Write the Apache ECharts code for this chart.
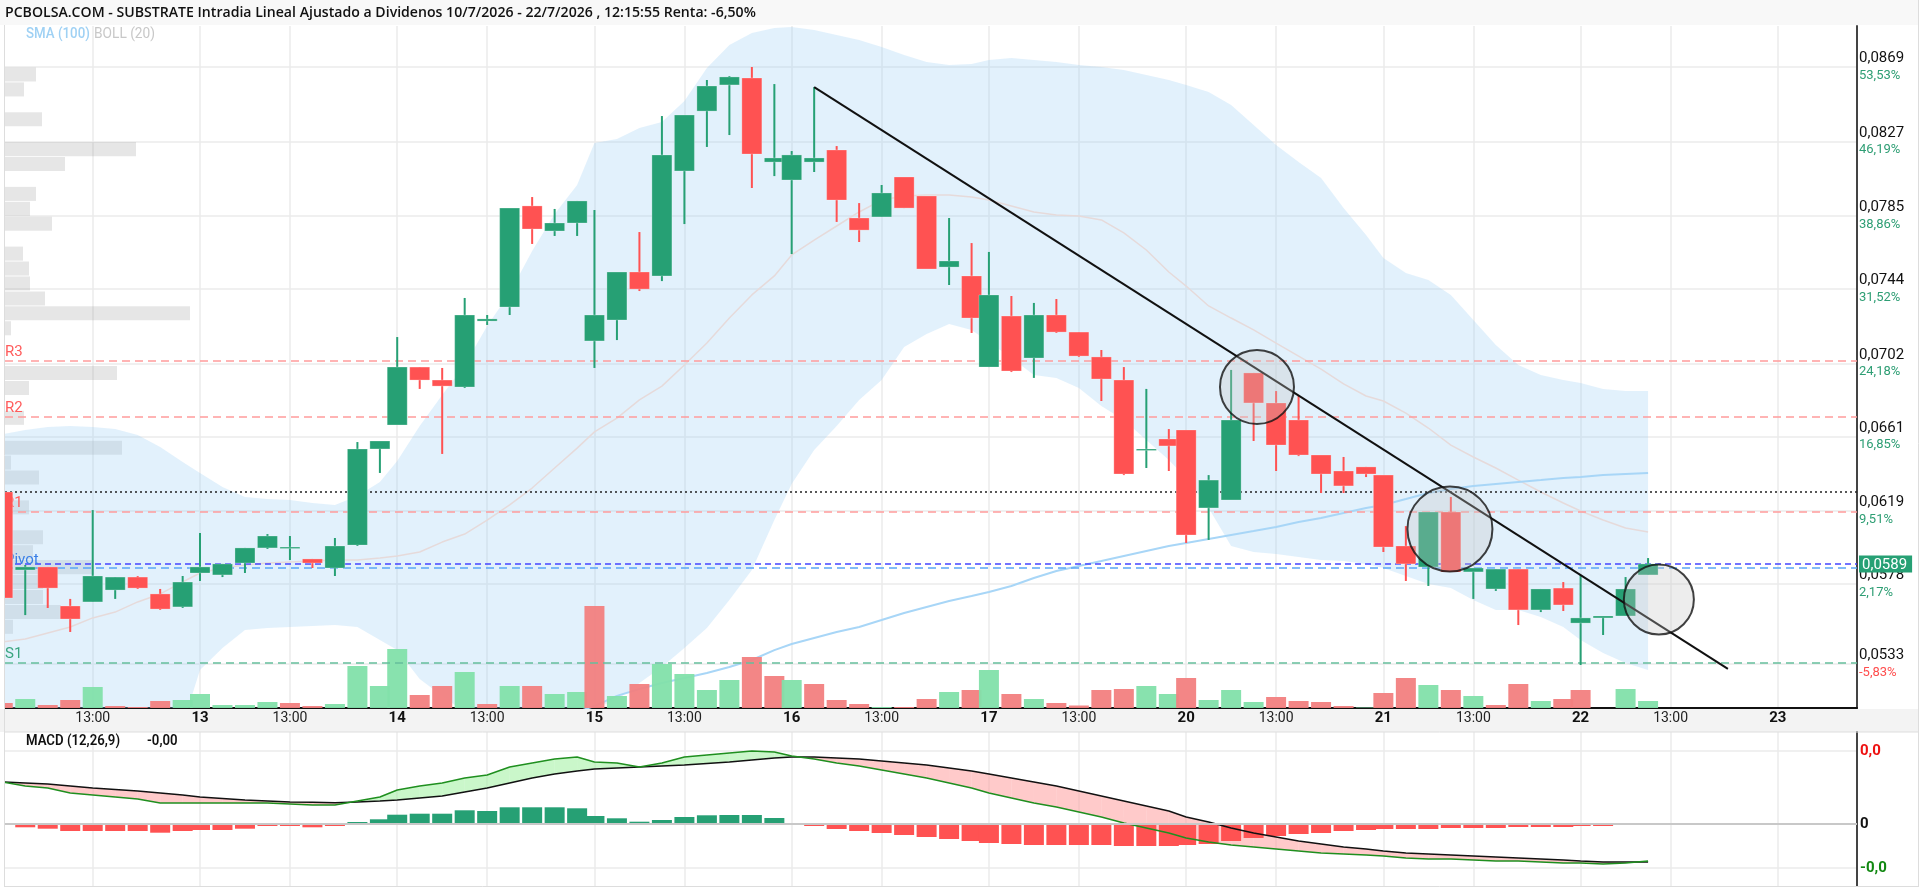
<!DOCTYPE html>
<html><head><meta charset="utf-8">
<script src="https://cdn.jsdelivr.net/npm/echarts@6/dist/echarts.min.js"></script>
<style>html,body{margin:0;padding:0;background:#fff}#c{width:1923px;height:891px}</style>
</head><body><div id="c"></div>
<script>
// ---------------- DATA ----------------
const DAYS = ['10','13','14','15','16','17','20','21','22','23'];
const FIRST_HOUR = 9;          // first hourly candle of a session
const CANDLES_PER_DAY = 9;     // 9:00 ... 17:00
const DAY_SPAN = 8.77;         // session length in hours (x-axis units)
const MIDDAY_HOUR = 13;

const OPEN = [
 0.06298,0.05859,0.05876,0.05656,0.05679,0.05746,0.05819,0.05724,0.05651,
 0.05842,0.05831,0.05898,0.05983,0.05983,0.05921,0.05870,0.05999,0.06540,
 0.06675,0.07001,0.06928,0.06889,0.07260,0.07339,0.07908,0.07767,0.07812,
 0.07148,0.07266,0.07536,0.07514,0.08105,0.08442,0.08589,0.08628,0.08155,
 0.08054,0.08155,0.08223,0.07840,0.07846,0.08071,0.07964,0.07564,0.07514,
 0.07001,0.07288,0.07052,0.07294,0.07198,0.07058,0.06928,0.06534,0.06596,
 0.06647,0.06208,0.06253,0.06968,0.06799,0.06703,0.06506,0.06416,0.06439,
 0.06393,0.05994,0.05876,0.06185,0.05848,0.05752,0.05864,0.05634,0.05757,
 0.05560,0.05589,0.05600,0.05831];
const CLOSE = [
 0.05701,0.05876,0.05757,0.05583,0.05825,0.05819,0.05757,0.05639,0.05791,
 0.05876,0.05893,0.05983,0.06050,0.05988,0.05898,0.05994,0.06540,0.06585,
 0.07001,0.06928,0.06894,0.07294,0.07272,0.07896,0.07778,0.07812,0.07936,
 0.07294,0.07536,0.07440,0.08195,0.08420,0.08583,0.08634,0.08200,0.08178,
 0.08195,0.08178,0.07941,0.07772,0.07981,0.07896,0.07553,0.07598,0.07277,
 0.07407,0.06979,0.07294,0.07198,0.07063,0.06934,0.06399,0.06540,0.06557,
 0.06056,0.06365,0.06703,0.06799,0.06562,0.06506,0.06399,0.06332,0.06399,
 0.05988,0.05893,0.06185,0.05848,0.05870,0.05864,0.05634,0.05752,0.05662,
 0.05589,0.05600,0.05752,0.05893];
const LOW = [
 0.05701,0.05605,0.05645,0.05510,0.05679,0.05696,0.05752,0.05634,0.05645,
 0.05797,0.05819,0.05842,0.05977,0.05915,0.05870,0.05825,0.05994,0.06405,
 0.06675,0.06878,0.06512,0.06883,0.07238,0.07294,0.07694,0.07739,0.07739,
 0.06996,0.07153,0.07429,0.07485,0.07806,0.08240,0.08307,0.08009,0.08076,
 0.07637,0.08099,0.07818,0.07705,0.07846,0.07896,0.07553,0.07463,0.07193,
 0.07001,0.06973,0.06940,0.07193,0.07058,0.06810,0.06393,0.06433,0.06416,
 0.06011,0.06028,0.06253,0.06585,0.06416,0.06500,0.06292,0.06292,0.06382,
 0.05960,0.05797,0.05769,0.05848,0.05696,0.05741,0.05549,0.05622,0.05628,
 0.05324,0.05493,0.05600,0.05831];
const HIGH = [
 0.06298,0.05887,0.05876,0.05696,0.06196,0.05819,0.05825,0.05752,0.05825,
 0.06067,0.05893,0.05983,0.06061,0.06050,0.05921,0.06039,0.06579,0.06585,
 0.07170,0.07001,0.06996,0.07390,0.07294,0.07896,0.07958,0.07891,0.07936,
 0.07885,0.07536,0.07761,0.08414,0.08420,0.08617,0.08639,0.08690,0.08594,
 0.08217,0.08577,0.08245,0.07924,0.08026,0.08071,0.07964,0.07840,0.07699,
 0.07649,0.07401,0.07362,0.07384,0.07198,0.07097,0.07001,0.06878,0.06652,
 0.06647,0.06393,0.06985,0.06968,0.06866,0.06838,0.06506,0.06495,0.06439,
 0.06393,0.06106,0.06185,0.06270,0.05870,0.05864,0.05864,0.05752,0.05791,
 0.05831,0.05600,0.05819,0.05926];
const VOLUME = [
 5,9,3,8,21,2,1,7,8,
 14,3,3,6,5,2,4,42,22,
 59,13,22,36,4,22,22,14,16,
 102,12,24,44,34,18,28,51,32,
 28,24,8,4,1,1,9,16,18,
 38,14,9,5,2.5,18,19,22,14,
 30,8,18,6,11,7,6,2,0.5,
 15,30,23,18,12,3,24,7,9,
 18,0,19,7];
const BOLL_UP = [
 0.06624,0.06647,0.06664,0.06669,0.06664,0.06652,0.06619,0.06551,0.06467,
 0.06405,0.06326,0.06270,0.06258,0.06253,0.06236,0.06225,0.06275,0.06354,
 0.06472,0.06669,0.06844,0.07013,0.07232,0.07418,0.07654,0.07863,0.08026,
 0.08262,0.08285,0.08347,0.08380,0.08499,0.08684,0.08814,0.08881,0.08910,
 0.08915,0.08898,0.08870,0.08842,0.08803,0.08758,0.08718,0.08701,0.08707,
 0.08729,0.08741,0.08729,0.08718,0.08701,0.08690,0.08673,0.08645,0.08617,
 0.08589,0.08549,0.08476,0.08364,0.08251,0.08155,0.08065,0.07896,0.07744,
 0.07615,0.07530,0.07491,0.07407,0.07266,0.07125,0.07013,0.06956,0.06928,
 0.06911,0.06878,0.06866,0.06866];
const BOLL_MID = [
 0.05454,0.05470,0.05504,0.05538,0.05589,0.05622,0.05679,0.05724,0.05791,
 0.05842,0.05870,0.05887,0.05898,0.05904,0.05909,0.05915,0.05915,0.05926,
 0.05938,0.05960,0.06016,0.06061,0.06140,0.06225,0.06320,0.06433,0.06545,
 0.06636,0.06714,0.06816,0.06894,0.07013,0.07136,0.07277,0.07407,0.07514,
 0.07632,0.07716,0.07795,0.07874,0.07941,0.07964,0.07970,0.07970,0.07958,
 0.07941,0.07908,0.07874,0.07857,0.07851,0.07829,0.07756,0.07660,0.07536,
 0.07457,0.07345,0.07277,0.07210,0.07136,0.07063,0.06990,0.06906,0.06838,
 0.06810,0.06742,0.06658,0.06562,0.06495,0.06433,0.06365,0.06298,0.06236,
 0.06191,0.06140,0.06095,0.06073];
const BOLL_LOW = [
 0.04283,0.04305,0.04367,0.04440,0.04514,0.04592,0.04705,0.04846,0.04986,
 0.05296,0.05420,0.05521,0.05532,0.05538,0.05544,0.05549,0.05538,0.05465,
 0.05408,0.05245,0.05150,0.05060,0.05003,0.04969,0.04958,0.04986,0.05043,
 0.05082,0.05127,0.05223,0.05313,0.05420,0.05532,0.05690,0.05859,0.06140,
 0.06343,0.06534,0.06669,0.06816,0.06928,0.07114,0.07187,0.07243,0.07210,
 0.07142,0.07052,0.06956,0.06940,0.06883,0.06782,0.06703,0.06591,0.06478,
 0.06377,0.06208,0.05994,0.05960,0.05949,0.05932,0.05915,0.05909,0.05893,
 0.05870,0.05825,0.05780,0.05757,0.05690,0.05634,0.05634,0.05594,0.05538,
 0.05465,0.05392,0.05335,0.05296];
const SMA100 = [
 null,null,null,null,null,null,null,null,null,
 null,null,null,null,null,null,null,null,null,
 null,null,null,null,null,null,0.05003,0.05031,0.05060,
 0.05093,0.05150,0.05189,0.05223,0.05251,0.05279,0.05313,0.05352,0.05408,
 0.05442,0.05476,0.05510,0.05538,0.05577,0.05617,0.05651,0.05684,0.05712,
 0.05735,0.05769,0.05814,0.05853,0.05881,0.05909,0.05938,0.05966,0.05994,
 0.06011,0.06033,0.06056,0.06078,0.06101,0.06129,0.06151,0.06180,0.06208,
 0.06225,0.06258,0.06292,0.06315,0.06332,0.06343,0.06354,0.06365,0.06377,
 0.06382,0.06393,0.06399,0.06405];
// MACD panel values, in units of 1e-5
const MACD = [
 42,38,36,31,29,27,25,21,21,
 21,21,21,21,20,19,19,23,27,
 34,38,41,46,49,57,61,65,67,
 62,61,57,61,67,69,71,73,72,
 68,65,61,58,54,50,46,41,36,
 31,26,21,17,12,7,1,-4,-9,
 -14,-18,-21,-23,-25,-27,-29,-30,-31,
 -32,-34,-35,-35,-36,-37,-37,-38,-39,
 -39,-40,-39,-37];
const SIGNAL = [
 42,41,40,38,36,34.5,33,31,29,
 27,25.5,24,23,22,21.7,21.3,22,23,
 24,26,28,32,36,41,46,50,53,
 55,56,57,58,59,60.5,62,64,66,
 67,67,66,65,63,61,59,56,53,
 50,46,42,38,33,28,23,18,13,
 7,2,-4,-9,-13,-17,-20,-23,-25,
 -27,-29,-30,-31,-32,-33,-34,-35,-36,
 -37,-38,-38,-38];
const HIST = [
 -1,-3.3,-4.7,-7,-7,-7,-7,-8.7,-7,
 -6,-6,-4.7,-2,-2,-3.3,-2,2,4.7,
 9.3,10.3,10.3,13.7,13,16.7,16.7,16.7,15.7,
 8,5.7,2.3,4,7,8.7,9,9,6,
 1,-2,-5,-7,-9,-11,-13,-15,-17,
 -19,-20,-21,-21,-21,-21,-22,-22,-22,
 -21,-20,-17,-14,-12,-10,-9,-7,-6,
 -5,-5,-5,-4,-4,-4,-3,-3,-3,
 -2,-2,-1,1];
// Volume at price profile (38 bins from top)
const VPROFILE = [31,19,0,37,0,131,60,0,31,25,47,0,18,24,25,40,185,6,0,0,112,24,0,19,0,117,6,34,0,24,0,38,28,89,38,38,56,8];

const PRICE_TICKS = [0.0869,0.0827,0.0785,0.0744,0.0702,0.0661,0.0619,0.0578,0.0533];
const PRICE_PCT   = ['53,53%','46,19%','38,86%','31,52%','24,18%','16,85%','9,51%','2,17%','-5,83%'];
const LEVELS = {R3:0.07035, R2:0.06720, R1:0.06185, Pivot:0.05893, S1:0.05335};
const REF_PRICE = 0.06298;
const LAST_LINE = 0.05870;
const MACD_TICKS = [73, 0, -44];
const MACD_TICK_LABELS = ['0,0','0','-0,0'];
const TRENDLINE = [[36.08, 0.08577],[76.71, 0.05302]];
const CIRCLES = [[55.77, 0.06889, 74],[64.35, 0.06090, 85],[73.64, 0.05693, 70]];

const TITLE = 'PCBOLSA.COM - SUBSTRATE Intradia Lineal Ajustado a Dividenos 10/7/2026 - 22/7/2026 , 12:15:55 Renta: -6,50%';

// ---------------- LAYOUT ----------------
const XMIN = 0.1, XMAX = 82.45;
const PMIN = 0.05082, PMAX = 0.089208;
const GREEN = '#26a074', RED = '#ff5252';
const VGREEN = '#82e0aa', VRED = '#f27f7f';

const N = OPEN.length;
const X = OPEN.map((_, i) => Math.floor(i / CANDLES_PER_DAY) * DAY_SPAN + (i % CANDLES_PER_DAY));
const LAST = CLOSE[N - 1];

const X_TICKS = [], X_LABELS = [];
DAYS.forEach((d, di) => {
  const s = di * DAY_SPAN;
  if (s >= XMIN) { X_TICKS.push(s); X_LABELS.push('{d|' + d + '}'); }
  const m = s + (MIDDAY_HOUR - FIRST_HOUR);
  if (m <= XMAX) { X_TICKS.push(m); X_LABELS.push('{t|' + MIDDAY_HOUR + ':00}'); }
});
const fmtP = v => v.toFixed(4).replace('.', ',');
const nearIdx = (arr, v) => { let b = -1, bd = 1e9; arr.forEach((a, i) => { const d = Math.abs(a - v); if (d < bd) { bd = d; b = i; } }); return b; };

const chart = echarts.init(document.getElementById('c'), null, {width: 1923, height: 891});

const GRIDC = '#ebebeb';
const RLINE = {color: '#ff9c9c', type: [8, 5], width: 1.5};
const option = {
  animation: false,
  backgroundColor: '#ffffff',
  grid: [
    {left: 5, top: 26, width: 1852, height: 682, outerBoundsMode: 'none'},
    {left: 5, top: 67, width: 1852, height: 567.3, outerBoundsMode: 'none'},
    {left: 5, top: 732, width: 1852, height: 154, outerBoundsMode: 'none'}
  ],
  xAxis: [
    {gridIndex: 0, type: 'value', min: XMIN, max: XMAX,
     axisLine: {show: true, onZero: false, lineStyle: {color: '#111', width: 2}},
     axisTick: {show: false, customValues: X_TICKS},
     splitLine: {show: true, lineStyle: {color: GRIDC, width: 1.5}},
     axisLabel: {customValues: X_TICKS, margin: 3,
       formatter: v => X_LABELS[nearIdx(X_TICKS, v)],
       rich: {d: {fontFamily: 'Roboto', fontWeight: 'bold', fontSize: 15, color: '#111'},
              t: {fontFamily: 'Roboto', fontSize: 14, color: '#222'}}}},
    {gridIndex: 1, type: 'value', min: 0, max: 1852, show: false},
    {gridIndex: 2, type: 'value', min: XMIN, max: XMAX,
     axisLine: {show: false}, axisLabel: {show: false},
     axisTick: {show: false, customValues: X_TICKS},
     splitLine: {show: true, lineStyle: {color: GRIDC, width: 1.5}}}
  ],
  yAxis: [
    {gridIndex: 0, type: 'value', position: 'right', min: PMIN, max: PMAX,
     axisLine: {show: true, onZero: false, lineStyle: {color: '#444', width: 2}},
     axisTick: {show: false, customValues: PRICE_TICKS},
     splitLine: {show: true, lineStyle: {color: GRIDC, width: 1.5}},
     axisLabel: {customValues: PRICE_TICKS.concat([LAST]), margin: 2,
       formatter: v => {
         if (Math.abs(v - LAST) < 1e-9) return '{last|' + fmtP(v) + '}';
         const i = nearIdx(PRICE_TICKS, v);
         const pc = PRICE_PCT[i];
         return '{p|' + fmtP(v) + '}\n{' + (pc[0] === '-' ? 'n' : 'q') + '|' + pc + '}';
       },
       rich: {
         p: {fontFamily: 'Roboto', fontSize: 15, color: '#111', lineHeight: 17},
         q: {fontFamily: 'Roboto', fontSize: 13, color: '#2e9e74', lineHeight: 17},
         n: {fontFamily: 'Roboto', fontSize: 13, color: '#ff4d4d', lineHeight: 17},
         last: {fontFamily: 'Roboto', fontSize: 15, color: '#fff', backgroundColor: GREEN, padding: [2, 5, 0, 3], lineHeight: 16}
       }}},
    {gridIndex: 0, type: 'value', min: 0, max: 682, show: false},
    {gridIndex: 1, type: 'category', inverse: true, data: VPROFILE.map((_, i) => i), show: false},
    {gridIndex: 2, type: 'value', position: 'right', min: -62, max: 92,
     axisLine: {show: true, onZero: false, lineStyle: {color: '#444', width: 2}},
     axisTick: {show: false, customValues: MACD_TICKS},
     splitLine: {show: true, lineStyle: {color: GRIDC, width: 1.5}},
     axisLabel: {customValues: MACD_TICKS, margin: 3,
       formatter: v => { const i = nearIdx(MACD_TICKS, v); return '{s' + i + '|' + MACD_TICK_LABELS[i] + '}'; },
       rich: {s0: {fontFamily: 'Roboto', fontWeight: 'bold', fontSize: 15, color: '#ee1111'},
              s1: {fontFamily: 'Roboto', fontWeight: 'bold', fontSize: 15, color: '#111'},
              s2: {fontFamily: 'Roboto', fontWeight: 'bold', fontSize: 15, color: '#118811'}}}}
  ],
  series: [
    // volume profile
    {type: 'bar', xAxisIndex: 1, yAxisIndex: 2, data: VPROFILE, barCategoryGap: '6%', z: 1, silent: true,
     itemStyle: {color: 'rgba(150,150,150,0.24)'}},
    // bollinger band fill
    {type: 'custom', xAxisIndex: 0, yAxisIndex: 0, z: 2, clip: true, silent: true,
     data: [[X[0], BOLL_MID[0]]],
     renderItem: (params, api) => {
       const pts = [];
       for (let i = 0; i < N; i++) pts.push(api.coord([X[i], BOLL_UP[i]]));
       for (let i = N - 1; i >= 0; i--) pts.push(api.coord([X[i], BOLL_LOW[i]]));
       return {type: 'polygon', shape: {points: pts}, style: {fill: 'rgba(160,210,245,0.3)'}};
     }},
    // BOLL middle + levels
    {type: 'line', xAxisIndex: 0, yAxisIndex: 0, z: 3, symbol: 'none', silent: true,
     data: X.map((x, i) => [x, BOLL_MID[i]]),
     lineStyle: {color: '#e6dada', width: 1.5},
     markLine: {symbol: ['none', 'none'], silent: true, animation: false, precision: 8,
       data: [
         {yAxis: LEVELS.R3, lineStyle: RLINE, label: {formatter: 'R3', color: '#ff5c5c'}},
         {yAxis: LEVELS.R2, lineStyle: RLINE, label: {formatter: 'R2', color: '#ff5c5c'}},
         {yAxis: LEVELS.R1, lineStyle: RLINE, label: {formatter: 'R1', color: '#ff5c5c'}},
         {yAxis: REF_PRICE, lineStyle: {color: '#222', type: [2, 3], width: 1.5}, label: {show: false}},
         {yAxis: LAST_LINE, lineStyle: {color: '#5aa6f5', type: [8, 5], width: 1.5}, label: {show: false}},
         {yAxis: LEVELS.Pivot, lineStyle: {color: '#4545ff', type: [6, 4], width: 1.5}, label: {formatter: 'Pivot', color: '#3a7fe6', distance: [0, -4]}},
         {yAxis: LEVELS.S1, lineStyle: {color: '#66bf9c', type: [8, 5], width: 1.5}, label: {formatter: 'S1', color: '#3aa57f'}}
       ],
       label: {show: true, position: 'insideStartTop', distance: [0, 1], fontFamily: 'Roboto', fontSize: 15}}},
    // SMA 100
    {type: 'line', xAxisIndex: 0, yAxisIndex: 0, z: 3, symbol: 'none', silent: true, connectNulls: false,
     data: X.map((x, i) => [x, SMA100[i]]),
     lineStyle: {color: '#a8d6f7', width: 2}},
    // volumes
    {type: 'custom', xAxisIndex: 0, yAxisIndex: 1, z: 4, clip: true, silent: true,
     data: VOLUME.map((v, i) => [X[i], v, (i === 0 ? CLOSE[0] >= OPEN[0] : CLOSE[i] >= CLOSE[i - 1]) ? 1 : 0]),
     renderItem: (params, api) => {
       const a = api.coord([api.value(0), api.value(1)]), b = api.coord([api.value(0), 0]);
       return {type: 'rect', shape: {x: a[0] - 10, y: a[1], width: 20, height: b[1] - a[1]},
               style: {fill: api.value(2) ? VGREEN : VRED, opacity: 0.95}};
     }},
    // candles
    {type: 'custom', xAxisIndex: 0, yAxisIndex: 0, z: 6, clip: true, silent: true,
     encode: {x: 0, y: [1, 2, 3, 4]},
     data: X.map((x, i) => [x, OPEN[i], CLOSE[i], LOW[i], HIGH[i]]),
     renderItem: (params, api) => {
       const x = api.value(0), o = api.value(1), c = api.value(2), l = api.value(3), h = api.value(4);
       const po = api.coord([x, o]), pc = api.coord([x, c]), pl = api.coord([x, l]), ph = api.coord([x, h]);
       const col = c >= o ? GREEN : RED;
       const top = Math.min(po[1], pc[1]), bot = Math.max(po[1], pc[1]);
       return {type: 'group', children: [
         {type: 'line', shape: {x1: po[0], y1: ph[1], x2: po[0], y2: pl[1]}, style: {stroke: col, lineWidth: 2}},
         {type: 'rect', shape: {x: po[0] - 10, y: top, width: 20, height: Math.max(bot - top, 1.5)},
          style: {fill: col, stroke: 'rgba(255,255,255,0.25)', lineWidth: 1}}
       ]};
     }},
    // trend line
    {type: 'line', xAxisIndex: 0, yAxisIndex: 0, z: 7, symbol: 'none', silent: true,
     data: TRENDLINE, lineStyle: {color: '#111', width: 2}},
    // circles
    {type: 'scatter', xAxisIndex: 0, yAxisIndex: 0, z: 8, silent: true,
     data: CIRCLES.map(c => ({value: [c[0], c[1]], symbolSize: c[2]})),
     itemStyle: {color: 'rgba(200,200,200,0.4)', borderColor: '#111', borderWidth: 2}},
    // MACD fill
    {type: 'custom', xAxisIndex: 2, yAxisIndex: 3, z: 1, clip: true, silent: true,
     data: X.slice(0, N - 1).map((x, i) => [x, X[i + 1], MACD[i], SIGNAL[i], MACD[i + 1], SIGNAL[i + 1]]),
     renderItem: (params, api) => {
       const x0 = api.value(0), x1 = api.value(1), m0 = api.value(2), s0 = api.value(3), m1 = api.value(4), s1 = api.value(5);
       const P = (x, y) => api.coord([x, y]);
       const d0 = m0 - s0, d1 = m1 - s1;
       const UP = 'rgba(150,240,150,0.5)', DN = 'rgba(255,150,150,0.5)';
       const ch = [];
       if (d0 * d1 >= 0) {
         ch.push({type: 'polygon', shape: {points: [P(x0, m0), P(x1, m1), P(x1, s1), P(x0, s0)]}, style: {fill: (d0 + d1) >= 0 ? UP : DN}});
       } else {
         const t = d0 / (d0 - d1), xc = x0 + t * (x1 - x0), yc = m0 + t * (m1 - m0);
         ch.push({type: 'polygon', shape: {points: [P(x0, m0), P(xc, yc), P(x0, s0)]}, style: {fill: d0 > 0 ? UP : DN}});
         ch.push({type: 'polygon', shape: {points: [P(xc, yc), P(x1, m1), P(x1, s1)]}, style: {fill: d1 > 0 ? UP : DN}});
       }
       return {type: 'group', children: ch};
     }},
    // MACD histogram
    {type: 'custom', xAxisIndex: 2, yAxisIndex: 3, z: 2, clip: true, silent: true,
     data: HIST.map((h, i) => [X[i], h]),
     renderItem: (params, api) => {
       const a = api.coord([api.value(0), api.value(1)]), b = api.coord([api.value(0), 0]);
       return {type: 'rect', shape: {x: a[0] - 10, y: Math.min(a[1], b[1]), width: 20, height: Math.abs(b[1] - a[1])},
               style: {fill: api.value(1) >= 0 ? GREEN : RED}};
     }},
    // MACD zero line
    {type: 'line', xAxisIndex: 2, yAxisIndex: 3, z: 1, symbol: 'none', silent: true, data: [],
     markLine: {symbol: ['none', 'none'], silent: true, precision: 8, label: {show: false},
       data: [{yAxis: 0}], lineStyle: {color: '#c8c8c8', type: 'solid', width: 2}}},
    {type: 'line', xAxisIndex: 2, yAxisIndex: 3, z: 3, symbol: 'none', silent: true,
     data: X.map((x, i) => [x, SIGNAL[i]]), lineStyle: {color: '#111', width: 1.5}},
    {type: 'line', xAxisIndex: 2, yAxisIndex: 3, z: 3, symbol: 'none', silent: true,
     data: X.map((x, i) => [x, MACD[i]]), lineStyle: {color: '#1f8f1f', width: 1.5}}
  ],
  graphic: [
    {type: 'rect', z: -10, shape: {x: 0, y: 0, width: 1918, height: 25}, style: {fill: '#f8f8f8'}},
    {type: 'rect', z: -10, shape: {x: 0, y: 709, width: 1918, height: 23}, style: {fill: '#f3f3f3'}},
    {type: 'line', z: 50, shape: {x1: 4.5, y1: 25, x2: 4.5, y2: 886}, style: {stroke: '#dddddd', lineWidth: 1}},
    {type: 'line', z: 50, shape: {x1: 1918.5, y1: 0, x2: 1918.5, y2: 887}, style: {stroke: '#dddddd', lineWidth: 1}},
    {type: 'line', z: 50, shape: {x1: 4, y1: 886.5, x2: 1918, y2: 886.5}, style: {stroke: '#dddddd', lineWidth: 1}},
    {type: 'line', z: 50, shape: {x1: 4, y1: 732, x2: 1918, y2: 732}, style: {stroke: '#dddddd', lineWidth: 1}},
    {type: 'text', z: 60, x: 5, y: 13, scaleX: 0.94,
     style: {text: TITLE, font: '600 15px "Open Sans"', fill: '#111', verticalAlign: 'middle'}},
    {type: 'text', z: 60, x: 26, y: 34, scaleX: 0.95,
     style: {text: 'SMA (100)', font: '500 14px Roboto', fill: '#9fd1f4', verticalAlign: 'middle'}},
    {type: 'text', z: 60, x: 94, y: 34, scaleX: 0.98,
     style: {text: 'BOLL (20)', font: '14px Roboto', fill: '#c8c8c8', verticalAlign: 'middle'}},
    {type: 'text', z: 60, x: 26, y: 741, scaleX: 0.88,
     style: {text: 'MACD (12,26,9)', font: '600 15px Roboto', fill: '#111', verticalAlign: 'middle'}},
    {type: 'text', z: 60, x: 147, y: 741, scaleX: 0.88,
     style: {text: (MACD[N - 1] / 1e5).toFixed(2).replace('.', ','), font: '600 15px Roboto', fill: '#111', verticalAlign: 'middle'}}
  ]
};
chart.setOption(option);
</script></body></html>
